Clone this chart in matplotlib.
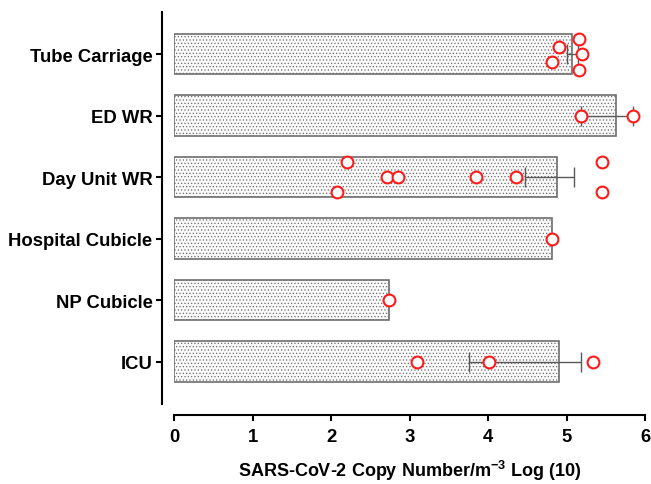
import matplotlib
matplotlib.use("Agg")
import matplotlib.pyplot as plt
import numpy as np

plt.rcParams['font.family'] = ['Liberation Sans', 'DejaVu Sans']
plt.rcParams['mathtext.fontset'] = 'custom'
plt.rcParams['mathtext.bf'] = 'Liberation Sans:bold'
plt.rcParams['mathtext.rm'] = 'Liberation Sans'
plt.rcParams['hatch.color'] = '#dcdcdc'
plt.rcParams['hatch.linewidth'] = 0.5

categories = ["ICU", "NP Cubicle", "Hospital Cubicle", "Day Unit WR", "ED WR", "Tube Carriage"]
bar_values = [4.90, 2.74, 4.81, 4.88, 5.63, 5.075]
err_low = [3.76, None, None, 4.47, 5.18, 5.00]
err_high = [5.18, None, None, 5.09, 5.85, 5.15]

points = [
    [3.10, 4.01, 5.34],
    [2.74],
    [4.81],
    [2.20, 5.45, 2.71, 2.85, 3.84, 4.36, 2.07, 5.45],
    [5.18, 5.85],
    [5.16, 4.91, 5.20, 4.81, 5.16],
]
jitter = [
    [0, 0, 0],
    [0],
    [0],
    [0.245, 0.245, 0, 0, 0, 0, -0.245, -0.245],
    [0, 0],
    [0.24, 0.12, 0, -0.12, -0.25],
]

fig = plt.figure(figsize=(6.51, 4.85), dpi=100)
ax = fig.add_axes([0.2677, 0.1649, 0.7231, 0.8089])

for s in ['top', 'right']:
    ax.spines[s].set_visible(False)
ax.spines['left'].set_position(('outward', 8.6))
ax.spines['bottom'].set_position(('outward', 7.9))
ax.spines['left'].set_linewidth(1.5)
ax.spines['bottom'].set_linewidth(1.5)

y = np.arange(len(categories))
ax.barh(y, bar_values, height=0.66, facecolor='#fafafa', edgecolor='#6e6e6e',
        linewidth=1.2, hatch='.....', zorder=1)

for i in range(len(categories)):
    if err_low[i] is not None:
        m = bar_values[i]
        ax.errorbar([m], [y[i]], xerr=[[m - err_low[i]], [err_high[i] - m]],
                    fmt='none', ecolor='#5a5a5a', elinewidth=1.0, capsize=7.2,
                    capthick=1.0, zorder=2)

for i in range(len(categories)):
    yy = y[i] + np.array(jitter[i])
    ax.plot(points[i], yy, linestyle='none', marker='o', markersize=8.5,
            markerfacecolor='white', markeredgecolor='#ff1a1a', markeredgewidth=1.5,
            zorder=3)

ax.set_xlim(0, 6)
ax.set_ylim(-0.69, 5.69)
ax.set_yticks(y)
ax.set_yticklabels(categories, fontsize=13.3, fontweight='bold')
ax.set_xticks(range(7))
ax.set_xticklabels([str(v) for v in range(7)], fontsize=13.3, fontweight='bold')

ax.tick_params(axis='both', width=1.5, length=4.5, color='black')
ax.tick_params(axis='y', pad=2.5)
ax.tick_params(axis='x', pad=5)

ax.set_xlabel(r'SARS-CoV-2 Copy Number/m$^{\mathbf{-3}}$ Log (10)', fontsize=13,
              fontweight='bold', labelpad=9)

fig.savefig('out.png', dpi=100)
